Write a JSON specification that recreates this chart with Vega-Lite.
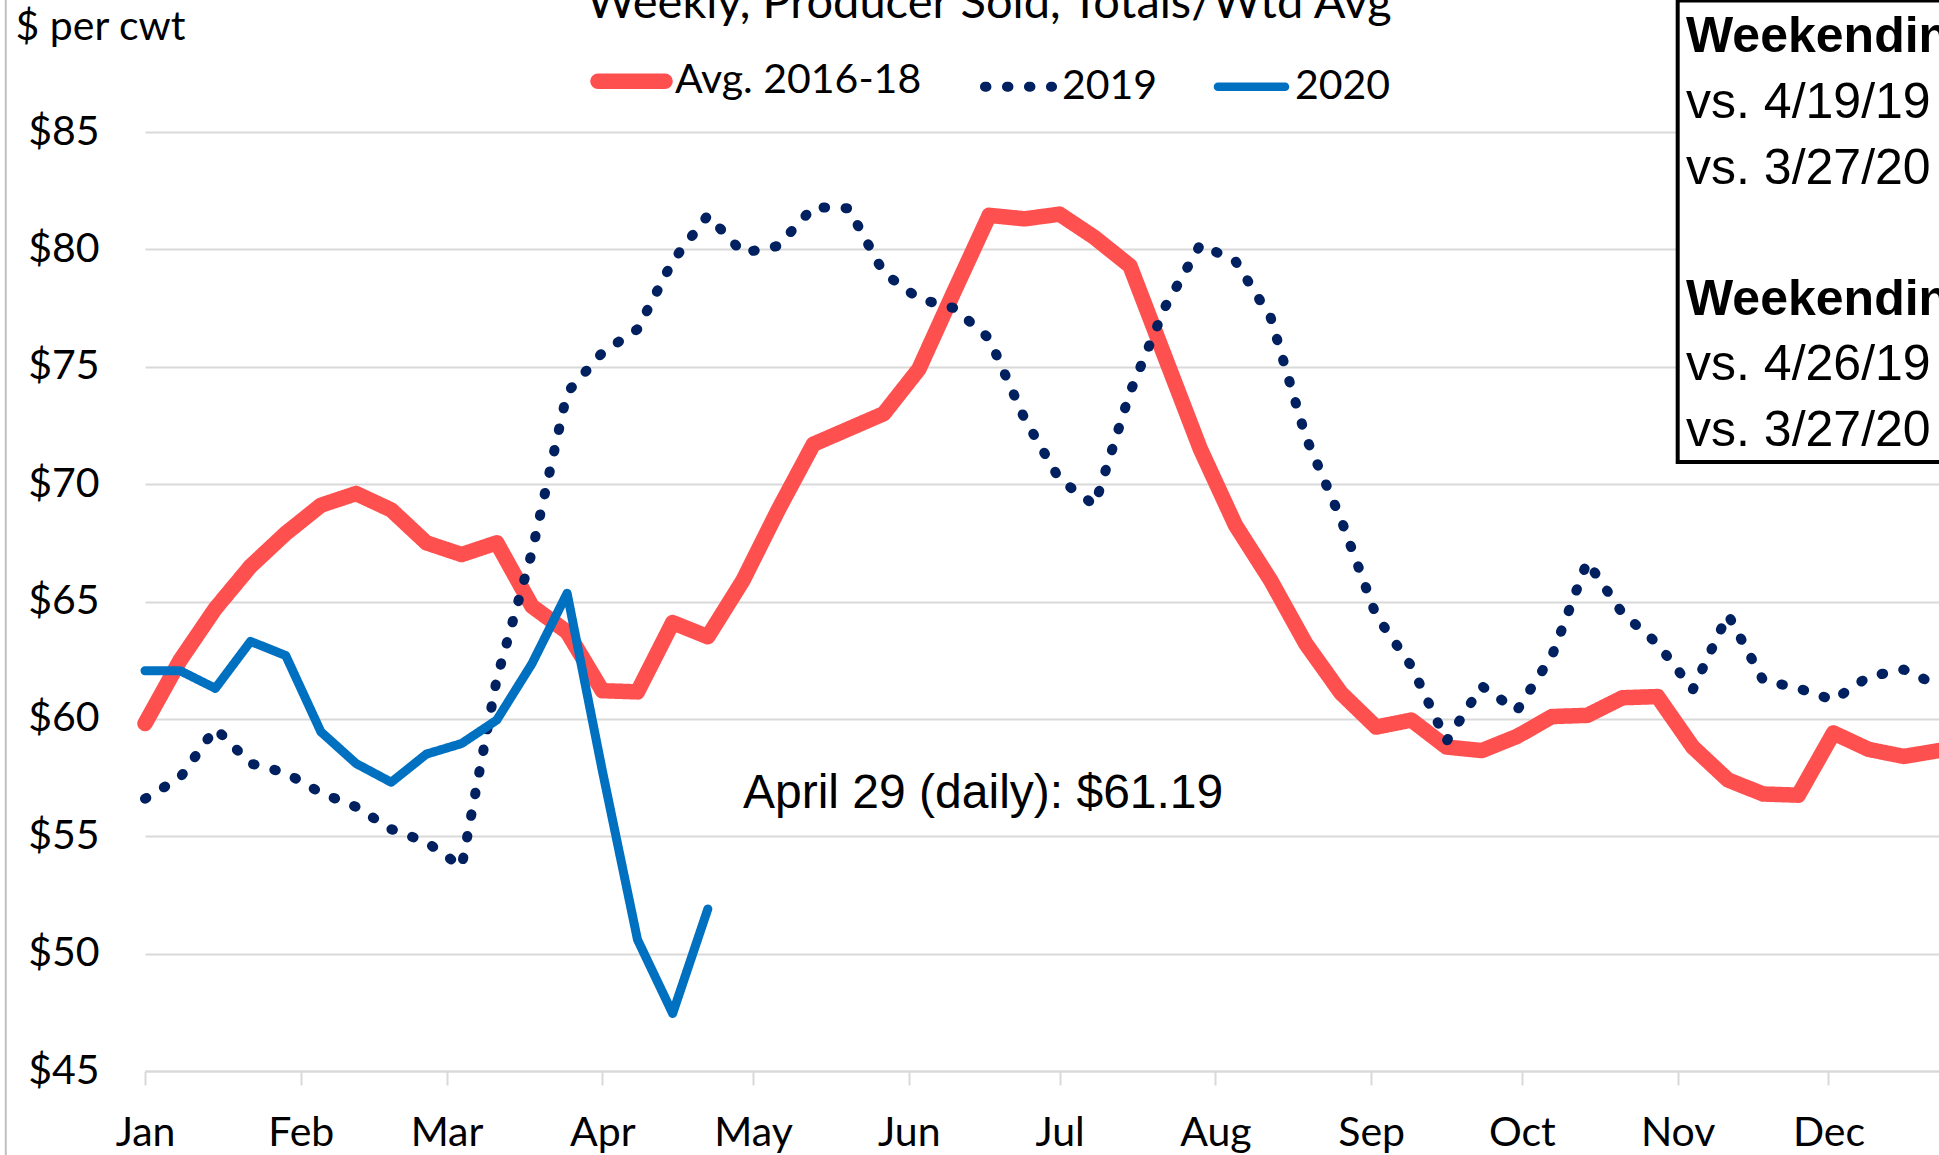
{
  "$schema": "https://vega.github.io/schema/vega-lite/v6.json",
  "width": 1794,
  "height": 939,
  "autosize": {"type": "none"},
  "padding": {"left": 145, "top": 132, "right": 0, "bottom": 84},
  "background": "white",
  "config": {"view": {"stroke": null}, "font": "Lato"},
  "datasets": {
    "prices": [
      {"date": "2020-01-01", "series": "Avg. 2016-18", "value": 59.8},
      {"date": "2020-01-08", "series": "Avg. 2016-18", "value": 62.5},
      {"date": "2020-01-15", "series": "Avg. 2016-18", "value": 64.7},
      {"date": "2020-01-22", "series": "Avg. 2016-18", "value": 66.5},
      {"date": "2020-01-29", "series": "Avg. 2016-18", "value": 67.9},
      {"date": "2020-02-05", "series": "Avg. 2016-18", "value": 69.1},
      {"date": "2020-02-12", "series": "Avg. 2016-18", "value": 69.6},
      {"date": "2020-02-19", "series": "Avg. 2016-18", "value": 68.9},
      {"date": "2020-02-26", "series": "Avg. 2016-18", "value": 67.5},
      {"date": "2020-03-04", "series": "Avg. 2016-18", "value": 67.0},
      {"date": "2020-03-11", "series": "Avg. 2016-18", "value": 67.5},
      {"date": "2020-03-18", "series": "Avg. 2016-18", "value": 64.8},
      {"date": "2020-03-25", "series": "Avg. 2016-18", "value": 63.7},
      {"date": "2020-04-01", "series": "Avg. 2016-18", "value": 61.2},
      {"date": "2020-04-08", "series": "Avg. 2016-18", "value": 61.15},
      {"date": "2020-04-15", "series": "Avg. 2016-18", "value": 64.1},
      {"date": "2020-04-22", "series": "Avg. 2016-18", "value": 63.5},
      {"date": "2020-04-29", "series": "Avg. 2016-18", "value": 65.9},
      {"date": "2020-05-06", "series": "Avg. 2016-18", "value": 68.9},
      {"date": "2020-05-13", "series": "Avg. 2016-18", "value": 71.7},
      {"date": "2020-05-20", "series": "Avg. 2016-18", "value": 72.35},
      {"date": "2020-05-27", "series": "Avg. 2016-18", "value": 73.0},
      {"date": "2020-06-03", "series": "Avg. 2016-18", "value": 74.9},
      {"date": "2020-06-10", "series": "Avg. 2016-18", "value": 78.2},
      {"date": "2020-06-17", "series": "Avg. 2016-18", "value": 81.45},
      {"date": "2020-06-24", "series": "Avg. 2016-18", "value": 81.3},
      {"date": "2020-07-01", "series": "Avg. 2016-18", "value": 81.5},
      {"date": "2020-07-08", "series": "Avg. 2016-18", "value": 80.5},
      {"date": "2020-07-15", "series": "Avg. 2016-18", "value": 79.3},
      {"date": "2020-07-22", "series": "Avg. 2016-18", "value": 75.4},
      {"date": "2020-07-29", "series": "Avg. 2016-18", "value": 71.5},
      {"date": "2020-08-05", "series": "Avg. 2016-18", "value": 68.25},
      {"date": "2020-08-12", "series": "Avg. 2016-18", "value": 65.9},
      {"date": "2020-08-19", "series": "Avg. 2016-18", "value": 63.2},
      {"date": "2020-08-26", "series": "Avg. 2016-18", "value": 61.1},
      {"date": "2020-09-02", "series": "Avg. 2016-18", "value": 59.65},
      {"date": "2020-09-09", "series": "Avg. 2016-18", "value": 59.95},
      {"date": "2020-09-16", "series": "Avg. 2016-18", "value": 58.8},
      {"date": "2020-09-23", "series": "Avg. 2016-18", "value": 58.65},
      {"date": "2020-09-30", "series": "Avg. 2016-18", "value": 59.25},
      {"date": "2020-10-07", "series": "Avg. 2016-18", "value": 60.1},
      {"date": "2020-10-14", "series": "Avg. 2016-18", "value": 60.15},
      {"date": "2020-10-21", "series": "Avg. 2016-18", "value": 60.9},
      {"date": "2020-10-28", "series": "Avg. 2016-18", "value": 60.95},
      {"date": "2020-11-04", "series": "Avg. 2016-18", "value": 58.8},
      {"date": "2020-11-11", "series": "Avg. 2016-18", "value": 57.4},
      {"date": "2020-11-18", "series": "Avg. 2016-18", "value": 56.8},
      {"date": "2020-11-25", "series": "Avg. 2016-18", "value": 56.75},
      {"date": "2020-12-02", "series": "Avg. 2016-18", "value": 59.4},
      {"date": "2020-12-09", "series": "Avg. 2016-18", "value": 58.7},
      {"date": "2020-12-16", "series": "Avg. 2016-18", "value": 58.4},
      {"date": "2020-12-23", "series": "Avg. 2016-18", "value": 58.65},
      {"date": "2020-01-01", "series": "2019", "value": 56.6},
      {"date": "2020-01-08", "series": "2019", "value": 57.5},
      {"date": "2020-01-15", "series": "2019", "value": 59.6},
      {"date": "2020-01-22", "series": "2019", "value": 58.1},
      {"date": "2020-01-29", "series": "2019", "value": 57.7},
      {"date": "2020-02-05", "series": "2019", "value": 56.85},
      {"date": "2020-02-12", "series": "2019", "value": 56.25},
      {"date": "2020-02-19", "series": "2019", "value": 55.3},
      {"date": "2020-02-26", "series": "2019", "value": 54.75},
      {"date": "2020-03-04", "series": "2019", "value": 53.7},
      {"date": "2020-03-11", "series": "2019", "value": 61.7},
      {"date": "2020-03-18", "series": "2019", "value": 67.1},
      {"date": "2020-03-25", "series": "2019", "value": 73.9},
      {"date": "2020-04-01", "series": "2019", "value": 75.6},
      {"date": "2020-04-08", "series": "2019", "value": 76.6},
      {"date": "2020-04-15", "series": "2019", "value": 79.5},
      {"date": "2020-04-22", "series": "2019", "value": 81.45},
      {"date": "2020-04-29", "series": "2019", "value": 79.85},
      {"date": "2020-05-06", "series": "2019", "value": 80.15},
      {"date": "2020-05-13", "series": "2019", "value": 81.8},
      {"date": "2020-05-20", "series": "2019", "value": 81.75},
      {"date": "2020-05-27", "series": "2019", "value": 79.0},
      {"date": "2020-06-03", "series": "2019", "value": 77.9},
      {"date": "2020-06-10", "series": "2019", "value": 77.5},
      {"date": "2020-06-17", "series": "2019", "value": 76.2},
      {"date": "2020-06-24", "series": "2019", "value": 72.8},
      {"date": "2020-07-01", "series": "2019", "value": 70.2},
      {"date": "2020-07-08", "series": "2019", "value": 69.1},
      {"date": "2020-07-15", "series": "2019", "value": 73.9},
      {"date": "2020-07-22", "series": "2019", "value": 77.55},
      {"date": "2020-07-29", "series": "2019", "value": 80.2},
      {"date": "2020-08-05", "series": "2019", "value": 79.5},
      {"date": "2020-08-12", "series": "2019", "value": 77.1},
      {"date": "2020-08-19", "series": "2019", "value": 72.0},
      {"date": "2020-08-26", "series": "2019", "value": 68.5},
      {"date": "2020-09-02", "series": "2019", "value": 64.4},
      {"date": "2020-09-09", "series": "2019", "value": 62.25},
      {"date": "2020-09-16", "series": "2019", "value": 59.05},
      {"date": "2020-09-23", "series": "2019", "value": 61.4},
      {"date": "2020-09-30", "series": "2019", "value": 60.35},
      {"date": "2020-10-07", "series": "2019", "value": 62.7},
      {"date": "2020-10-14", "series": "2019", "value": 66.7},
      {"date": "2020-10-21", "series": "2019", "value": 64.5},
      {"date": "2020-10-28", "series": "2019", "value": 63.2},
      {"date": "2020-11-04", "series": "2019", "value": 61.25},
      {"date": "2020-11-11", "series": "2019", "value": 64.45},
      {"date": "2020-11-18", "series": "2019", "value": 61.65},
      {"date": "2020-11-25", "series": "2019", "value": 61.3},
      {"date": "2020-12-02", "series": "2019", "value": 60.8},
      {"date": "2020-12-09", "series": "2019", "value": 61.8},
      {"date": "2020-12-16", "series": "2019", "value": 62.1},
      {"date": "2020-12-23", "series": "2019", "value": 61.4},
      {"date": "2020-01-01", "series": "2020", "value": 62.05},
      {"date": "2020-01-08", "series": "2020", "value": 62.05},
      {"date": "2020-01-15", "series": "2020", "value": 61.3},
      {"date": "2020-01-22", "series": "2020", "value": 63.3},
      {"date": "2020-01-29", "series": "2020", "value": 62.7},
      {"date": "2020-02-05", "series": "2020", "value": 59.45},
      {"date": "2020-02-12", "series": "2020", "value": 58.1},
      {"date": "2020-02-19", "series": "2020", "value": 57.3},
      {"date": "2020-02-26", "series": "2020", "value": 58.5},
      {"date": "2020-03-04", "series": "2020", "value": 58.95},
      {"date": "2020-03-11", "series": "2020", "value": 59.95},
      {"date": "2020-03-18", "series": "2020", "value": 62.35},
      {"date": "2020-03-25", "series": "2020", "value": 65.35},
      {"date": "2020-04-01", "series": "2020", "value": 57.8},
      {"date": "2020-04-08", "series": "2020", "value": 50.6},
      {"date": "2020-04-15", "series": "2020", "value": 47.45},
      {"date": "2020-04-22", "series": "2020", "value": 51.9}
    ],
    "one": [{}]
  },
  "layer": [
    {
      "data": {"name": "one"},
      "mark": {"type": "rule", "stroke": "#BFBFBF", "strokeWidth": 2},
      "encoding": {
        "x": {"datum": {"year": 2019, "month": 12, "date": 4, "hours": 7, "utc": true}, "type": "temporal"},
        "y": {"datum": 90.62, "type": "quantitative"},
        "y2": {"datum": 41.4}
      }
    },
    {
      "data": {"name": "one"},
      "mark": {"type": "text", "font": "Lato", "fontSize": 47, "align": "center", "baseline": "alphabetic", "fill": "black", "text": "Weekly, Producer Sold, Totals/Wtd Avg"},
      "encoding": {
        "x": {"datum": {"year": 2020, "month": 6, "date": 17, "utc": true}, "type": "temporal"},
        "y": {"datum": 89.85, "type": "quantitative"}
      }
    },
    {
      "data": {"name": "one"},
      "mark": {"type": "rect", "fill": "white", "stroke": "black", "strokeWidth": 4},
      "encoding": {
        "x": {"datum": {"year": 2020, "month": 11, "date": 1, "utc": true}, "type": "temporal"},
        "x2": {"datum": {"year": 2021, "month": 1, "date": 15, "utc": true}},
        "y": {"datum": 90.6, "type": "quantitative"},
        "y2": {"datum": 70.94}
      }
    },
    {
      "data": {"name": "one"},
      "mark": {"type": "text", "font": "Liberation Sans", "fontSize": 50, "fontWeight": "bold", "align": "left", "baseline": "alphabetic", "fill": "black", "text": "Weekending"},
      "encoding": {
        "x": {"datum": {"year": 2020, "month": 11, "date": 2, "hours": 16, "utc": true}, "type": "temporal"},
        "y": {"datum": 88.39, "type": "quantitative"}
      }
    },
    {
      "data": {"name": "one"},
      "mark": {"type": "text", "font": "Liberation Sans", "fontSize": 50, "align": "left", "baseline": "alphabetic", "fill": "black", "text": "vs. 4/19/19"},
      "encoding": {
        "x": {"datum": {"year": 2020, "month": 11, "date": 2, "hours": 16, "utc": true}, "type": "temporal"},
        "y": {"datum": 85.59, "type": "quantitative"}
      }
    },
    {
      "data": {"name": "one"},
      "mark": {"type": "text", "font": "Liberation Sans", "fontSize": 50, "align": "left", "baseline": "alphabetic", "fill": "black", "text": "vs. 3/27/20"},
      "encoding": {
        "x": {"datum": {"year": 2020, "month": 11, "date": 2, "hours": 16, "utc": true}, "type": "temporal"},
        "y": {"datum": 82.8, "type": "quantitative"}
      }
    },
    {
      "data": {"name": "one"},
      "mark": {"type": "text", "font": "Liberation Sans", "fontSize": 50, "fontWeight": "bold", "align": "left", "baseline": "alphabetic", "fill": "black", "text": "Weekending"},
      "encoding": {
        "x": {"datum": {"year": 2020, "month": 11, "date": 2, "hours": 16, "utc": true}, "type": "temporal"},
        "y": {"datum": 77.22, "type": "quantitative"}
      }
    },
    {
      "data": {"name": "one"},
      "mark": {"type": "text", "font": "Liberation Sans", "fontSize": 50, "align": "left", "baseline": "alphabetic", "fill": "black", "text": "vs. 4/26/19"},
      "encoding": {
        "x": {"datum": {"year": 2020, "month": 11, "date": 2, "hours": 16, "utc": true}, "type": "temporal"},
        "y": {"datum": 74.43, "type": "quantitative"}
      }
    },
    {
      "data": {"name": "one"},
      "mark": {"type": "text", "font": "Liberation Sans", "fontSize": 50, "align": "left", "baseline": "alphabetic", "fill": "black", "text": "vs. 3/27/20"},
      "encoding": {
        "x": {"datum": {"year": 2020, "month": 11, "date": 2, "hours": 16, "utc": true}, "type": "temporal"},
        "y": {"datum": 71.63, "type": "quantitative"}
      }
    },
    {
      "data": {"name": "one"},
      "mark": {"type": "text", "font": "Liberation Sans", "fontSize": 48, "align": "left", "baseline": "middle", "fill": "black", "text": "April 29 (daily): $61.19"},
      "encoding": {
        "x": {"datum": {"year": 2020, "month": 4, "date": 29, "utc": true}, "type": "temporal"},
        "y": {"datum": 56.8, "type": "quantitative"}
      }
    },
    {
      "data": {"name": "prices"},
      "transform": [{"filter": "datum.series === 'Avg. 2016-18'"}],
      "mark": {"type": "line", "strokeWidth": 15.5, "strokeCap": "round", "strokeJoin": "round"},
      "encoding": {
        "x": {"field": "date", "type": "temporal",
          "scale": {"type": "utc", "domain": [{"year": 2020, "month": 1, "date": 1, "utc": true}, {"year": 2020, "month": 12, "date": 23, "utc": true}]},
          "axis": {"title": null, "format": "%b", "grid": false,
            "values": [{"year": 2020, "month": 1, "date": 1, "utc": true}, {"year": 2020, "month": 2, "date": 1, "utc": true}, {"year": 2020, "month": 3, "date": 1, "utc": true}, {"year": 2020, "month": 4, "date": 1, "utc": true}, {"year": 2020, "month": 5, "date": 1, "utc": true}, {"year": 2020, "month": 6, "date": 1, "utc": true}, {"year": 2020, "month": 7, "date": 1, "utc": true}, {"year": 2020, "month": 8, "date": 1, "utc": true}, {"year": 2020, "month": 9, "date": 1, "utc": true}, {"year": 2020, "month": 10, "date": 1, "utc": true}, {"year": 2020, "month": 11, "date": 1, "utc": true}, {"year": 2020, "month": 12, "date": 1, "utc": true}],
            "labelFont": "Lato", "labelFontSize": 41, "labelColor": "black", "labelPadding": 28, "labelAlign": "center", "labelFlush": false, "labelOverlap": false,
            "tickSize": 14, "tickColor": "#D9D9D9", "tickWidth": 2, "domainColor": "#D9D9D9", "domainWidth": 2}},
        "y": {"field": "value", "type": "quantitative",
          "scale": {"domain": [45, 85], "nice": false, "zero": false},
          "axis": {"title": "$ per cwt", "values": [45, 50, 55, 60, 65, 70, 75, 80, 85], "format": "$.0f",
            "grid": true, "gridColor": "#D9D9D9", "gridWidth": 2, "domain": false, "ticks": false, "labelPadding": 46,
            "labelFont": "Lato", "labelFontSize": 41, "labelColor": "black",
            "titleAngle": 0, "titleX": -130, "titleY": -105, "titleAlign": "left", "titleBaseline": "middle",
            "titleFont": "Lato", "titleFontSize": 41, "titleFontWeight": "normal", "titleColor": "black"}},
        "color": {"field": "series", "type": "nominal",
          "scale": {"domain": ["Avg. 2016-18", "2019", "2020"], "range": ["#FF5050", "#002060", "#0070C0"]},
          "legend": {"title": null, "orient": "none", "legendX": 466, "legendY": -71.5, "direction": "horizontal", "symbolType": "stroke", "symbolSize": 4500, "labelFont": "Lato", "labelFontSize": 41, "labelColor": "black", "labelOffset": 23, "labelLimit": 500, "columnPadding": 42, "padding": 0,
            "encode": {"symbols": {"update": {"strokeCap": {"value": "round"},
              "strokeWidth": {"signal": "datum.value === 'Avg. 2016-18' ? 15.5 : datum.value === '2019' ? 10 : 8.5"},
              "strokeDash": {"signal": "datum.value === '2019' ? [1.5, 27] : [1, 0]"}}}}}},
        "strokeDash": {"field": "series", "type": "nominal",
          "scale": {"domain": ["Avg. 2016-18", "2019", "2020"], "range": [[1, 0], [1.5, 20.5], [1, 0]]},
          "legend": {"title": null}}
      }
    },
    {
      "data": {"name": "prices"},
      "transform": [{"filter": "datum.series === '2019'"}],
      "mark": {"type": "line", "strokeWidth": 10, "strokeCap": "round", "strokeJoin": "round"},
      "encoding": {
        "x": {"field": "date", "type": "temporal"},
        "y": {"field": "value", "type": "quantitative"},
        "color": {"field": "series", "type": "nominal"},
        "strokeDash": {"field": "series", "type": "nominal"}
      }
    },
    {
      "data": {"name": "prices"},
      "transform": [{"filter": "datum.series === '2020'"}],
      "mark": {"type": "line", "strokeWidth": 9, "strokeCap": "round", "strokeJoin": "round"},
      "encoding": {
        "x": {"field": "date", "type": "temporal"},
        "y": {"field": "value", "type": "quantitative"},
        "color": {"field": "series", "type": "nominal"},
        "strokeDash": {"field": "series", "type": "nominal"}
      }
    }
  ]
}
